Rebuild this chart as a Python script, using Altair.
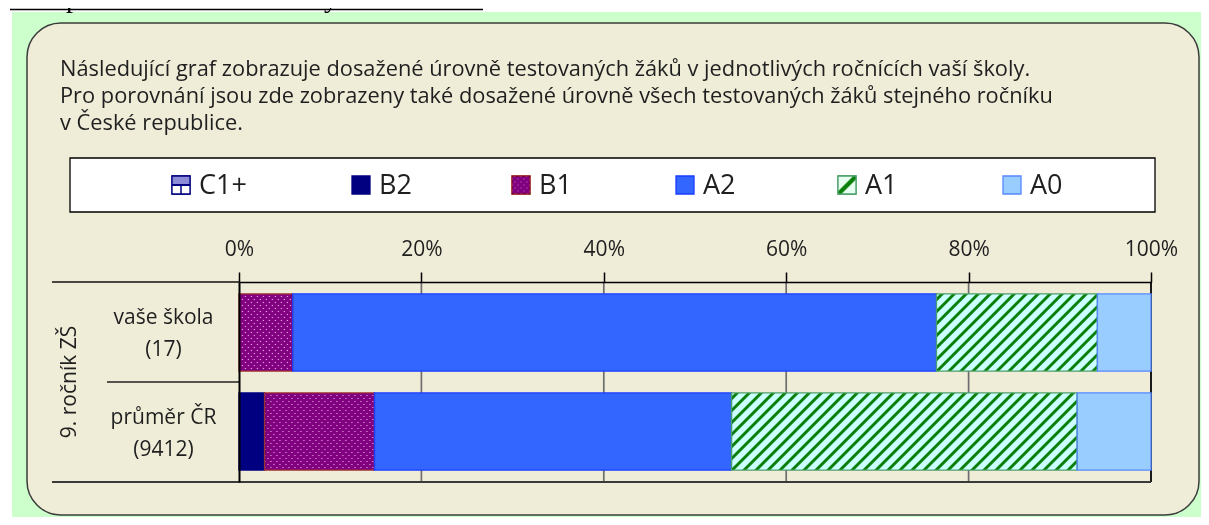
import math
import altair as alt
import pandas as pd

# ------------------------------------------------------------------ data
title_text = "Komparace úrovně testovaných žáků"
intro_lines = [
    "Následující graf zobrazuje dosažené úrovně testovaných žáků v jednotlivých ročnících vaší školy.",
    "Pro porovnání jsou zde zobrazeny také dosažené úrovně všech testovaných žáků stejného ročníku",
    "v České republice.",
]
group_label = "9. ročník ZŠ"
row_names = ["vaše škola", "průměr ČR"]
row_counts = [17, 9412]
levels = ["C1+", "B2", "B1", "A2", "A1", "A0"]
school_pct = [0.0, 0.0, 5.88, 70.59, 17.65, 5.88]
national_pct = [0.0, 2.8, 12.05, 39.15, 37.9, 8.1]
tick_values = [0, 20, 40, 60, 80, 100]

# ------------------------------------------------------------------ styles / layout
FONT = "Open Sans"
TXT = "#1f1f1f"
FILL = {"C1+": "#9999dd", "B2": "#000080", "B1": "#800080",
        "A2": "#3366ff", "A1": "#ccffff", "A0": "#99ccff"}
STROKE = {"C1+": "#000080", "B2": "#000080", "B1": "#a03030",
          "A2": "#1a3cff", "A1": "#4c9f6a", "A0": "#5588ff"}
GREEN_BG = "#ccffcc"
BEIGE = "#efecd8"

SVG_W, SVG_H = 1193, 509     # whole page minus the 8px body margins
PX0, PY0 = 239, 282          # page position of the plot origin
W, H = 912, 200
PAD = {"left": PX0 - 8, "top": PY0 - 8,
       "right": SVG_W - (PX0 - 8) - W, "bottom": SVG_H - (PY0 - 8) - H}
PAGE_R, PAGE_B = 8 + SVG_W, 8 + SVG_H
PI, PO = 0.22, 0.12
STEP = H / (len(row_names) - PI + 2 * PO)
BAND = STEP * (1 - PI)
LEGEND_X = [172, 352, 512, 676, 838, 1003]
ICON = 18


def rx(p):
    return p - PX0


def ry(p):
    return p - PY0


def one():
    return pd.DataFrame({"k": [0]})


def stripes(w, h, period, profile, anti=False):
    """Diagonal stripes at 45 deg in pixel space for a w x h box (bbox units)."""
    gx, gy = 1.0 / h, 1.0 / w
    s = (gx + gy) / (gx * gx + gy * gy)
    if not anti:
        x1, y1, x2, y2 = 0, 0, s * gx, s * gy
    else:
        x1, y1, x2, y2 = 0, 1, s * gx, 1 - s * gy
    n = (w + h) / period
    stops = []
    k = 0
    while k <= n + 1:
        for f, c in profile:
            o = (k + f) / n
            if o <= 1:
                stops.append({"offset": round(o, 5), "color": c})
        k += 1
    return {"gradient": "linear", "x1": x1, "y1": y1, "x2": x2, "y2": y2,
            "stops": stops}


A1_PROFILE = [(0, "#ccffff"), (0.25, "#ccffff"), (0.38, "#0a800a"),
              (0.6, "#0a800a"), (0.73, "#ccffff")]
B1_PROFILE = [(0, "#800080"), (0.3, "#800080"), (0.5, "#e6a6e6"),
              (0.7, "#800080")]

# ------------------------------------------------------------------ tables
row_keys = [f"{n}|({c})" for n, c in zip(row_names, row_counts)]
row_vals = dict(zip(row_keys, [school_pct, national_pct]))
recs = []
for key in row_keys:
    for i, (lv, v) in enumerate(zip(levels, row_vals[key])):
        recs.append({"row": key, "level": lv, "value": v, "order": i})
bars = pd.DataFrame(recs)

xscale = alt.Scale(domain=[0, 100], nice=False, zero=False)
yscale = alt.Scale(domain=row_keys, paddingInner=PI, paddingOuter=PO)
xaxis = alt.Axis(orient="top", values=tick_values, labelExpr="datum.value + '%'",
                 grid=False, domainColor="#000000", domainWidth=1.5,
                 tickColor="#000000", tickWidth=1.5, tickSize=10,
                 labelFont=FONT, labelFontSize=21, labelColor=TXT,
                 labelPadding=13, labelFlush=False, labelOverlap=False,
                 labelBound=False, title=None, zindex=1)
yaxis = alt.Axis(orient="left", title=None, ticks=False, tickSize=0,
                 domainColor="#000000", domainWidth=2,
                 labelAlign="center", labelBaseline="middle",
                 labelPadding=PX0 - 163, labelOffset=-14, labelFont=FONT,
                 labelFontSize=21, labelLineHeight=32, labelColor=TXT,
                 labelLimit=300, labelExpr="split(datum.label, '|')", zindex=1)

X = alt.X("x0:Q", scale=xscale, axis=xaxis)
X2 = alt.X2("x1:Q")
Y = alt.Y("row:N", sort=row_keys, scale=yscale, axis=yaxis)

base = (alt.Chart(bars)
        .transform_filter("datum.value > 0")
        .transform_stack(stack="value", groupby=["row"], as_=["x0", "x1"],
                         sort=[alt.SortField("order")]))

# ------------------------------------------------------------------ decorations
green = alt.Chart(one()).mark_rect(fill=GREEN_BG).encode(
    x=alt.value(rx(12)), x2=alt.value(rx(PAGE_R)),
    y=alt.value(ry(12)), y2=alt.value(ry(PAGE_B)))
box = alt.Chart(one()).mark_rect(fill=BEIGE, stroke="#3c3c3c", strokeWidth=1.5,
                                 cornerRadius=34).encode(
    x=alt.value(rx(27)), x2=alt.value(rx(PAGE_R - 2)),
    y=alt.value(ry(23)), y2=alt.value(ry(PAGE_B - 2)))
title = alt.Chart(one()).mark_text(align="left", baseline="alphabetic",
                                   font="Liberation Serif", fontSize=28,
                                   color="#000000").encode(
    x=alt.value(rx(10)), y=alt.value(ry(7)), text=alt.value(title_text))
title_line = alt.Chart(one()).mark_rule(color="#000000", strokeWidth=1.5).encode(
    x=alt.value(rx(10)), x2=alt.value(rx(483)), y=alt.value(ry(9.5)))
intro = alt.Chart(one()).mark_text(align="left", baseline="alphabetic",
                                   font=FONT, fontSize=21.8, lineHeight=27,
                                   color=TXT).encode(
    x=alt.value(rx(60)), y=alt.value(ry(76)), text=alt.value(intro_lines))
legend_box = alt.Chart(one()).mark_rect(fill="#ffffff", stroke="#000000",
                                        strokeWidth=1.3).encode(
    x=alt.value(rx(70)), x2=alt.value(rx(1155)),
    y=alt.value(ry(158)), y2=alt.value(ry(212)))

leg = pd.DataFrame({
    "level": levels,
    "ix": [rx(v) for v in LEGEND_X],
    "ix2": [rx(v + ICON) for v in LEGEND_X],
    "tx": [rx(v + ICON + 9) for v in LEGEND_X],
    "fill": [FILL[l] for l in levels],
    "stroke": [STROKE[l] for l in levels],
})
iy, iy2 = ry(176), ry(176 + ICON)
leg_icons = alt.Chart(leg).mark_rect(strokeWidth=1.3).encode(
    x=alt.X("ix:Q", scale=None), x2=alt.X2("ix2:Q"),
    y=alt.value(iy), y2=alt.value(iy2),
    fill=alt.Fill("fill:N", scale=None), stroke=alt.Stroke("stroke:N", scale=None))


def icon_layer(level, **mark):
    i = levels.index(level)
    return alt.Chart(one()).mark_rect(**mark).encode(
        x=alt.value(rx(LEGEND_X[i])), x2=alt.value(rx(LEGEND_X[i] + ICON)),
        y=alt.value(iy), y2=alt.value(iy2))


c1_grad = {"gradient": "linear", "x1": 0, "y1": 0, "x2": 0, "y2": 1, "stops": [
    {"offset": 0, "color": "#8c8cd6"}, {"offset": 0.42, "color": "#8c8cd6"},
    {"offset": 0.42, "color": "#000080"}, {"offset": 0.56, "color": "#000080"},
    {"offset": 0.56, "color": "#ffffff"}, {"offset": 1, "color": "#ffffff"}]}
a1_icon_grad = {"gradient": "linear", "x1": 0, "y1": 0, "x2": 1, "y2": 1, "stops": [
    {"offset": 0, "color": "#e6fff0"}, {"offset": 0.4, "color": "#e6fff0"},
    {"offset": 0.45, "color": "#0a800a"}, {"offset": 0.57, "color": "#0a800a"},
    {"offset": 0.62, "color": "#e6fff0"}, {"offset": 1, "color": "#e6fff0"}]}
i_c1 = levels.index("C1+")
icon_layers = [
    icon_layer("C1+", fill=c1_grad, stroke=STROKE["C1+"], strokeWidth=1.3),
    alt.Chart(one()).mark_rule(color="#000080", strokeWidth=1.5).encode(
        x=alt.value(rx(LEGEND_X[i_c1] + ICON / 2)),
        y=alt.value(iy + ICON * 0.5), y2=alt.value(iy2)),
    icon_layer("B1", fill=stripes(ICON, ICON, 6, B1_PROFILE)),
    icon_layer("B1", fill=stripes(ICON, ICON, 6, B1_PROFILE, anti=True),
               blend="darken", stroke=STROKE["B1"], strokeWidth=1.3),
    icon_layer("A1", fill=a1_icon_grad, stroke=STROKE["A1"], strokeWidth=1.3),
]
leg_text = alt.Chart(leg).mark_text(align="left", baseline="middle", font=FONT,
                                    fontSize=27, color=TXT).encode(
    x=alt.X("tx:Q", scale=None), y=alt.value(ry(186)), text="level:N")

group_text = alt.Chart(one()).mark_text(angle=270, align="center",
                                        baseline="middle", font=FONT,
                                        fontSize=21, color=TXT).encode(
    x=alt.value(rx(70)), y=alt.value(ry(382)), text=alt.value(group_label))

# ------------------------------------------------------------------ grid + bars
grid_df = pd.DataFrame({"t": tick_values})
grid_inner = (alt.Chart(grid_df).transform_filter("datum.t > 0 && datum.t < 100")
              .mark_rule(color="#6e6e6e", strokeWidth=1.7)
              .encode(x=alt.X("t:Q", scale=xscale, axis=xaxis),
                      y=alt.value(0), y2=alt.value(H)))
grid_edge = (alt.Chart(grid_df).transform_filter("datum.t == 100")
             .mark_rule(color="#1a1a1a", strokeWidth=2)
             .encode(x=alt.X("t:Q", scale=xscale, axis=xaxis),
                     y=alt.value(0), y2=alt.value(H)))

bars_main = base.mark_bar(strokeWidth=0).encode(
    x=X, x2=X2, y=Y,
    fill=alt.Fill("level:N", scale=alt.Scale(domain=levels,
                                             range=[FILL[l] for l in levels]),
                  legend=None))

overlays = []
for key in row_keys:
    vals = row_vals[key]
    for lv in ["B1", "A1"]:
        v = vals[levels.index(lv)]
        if v <= 0:
            continue
        w = v * W / 100.0
        sel = base.transform_filter(
            f"datum.row == '{key}' && datum.level == '{lv}'")
        if lv == "A1":
            overlays.append(sel.mark_bar(fill=stripes(w, BAND, 12, A1_PROFILE))
                            .encode(x=X, x2=X2, y=Y))
        else:
            overlays.append(sel.mark_bar(fill=stripes(w, BAND, 6, B1_PROFILE))
                            .encode(x=X, x2=X2, y=Y))
            overlays.append(sel.mark_bar(fill=stripes(w, BAND, 6, B1_PROFILE, anti=True),
                                         blend="darken")
                            .encode(x=X, x2=X2, y=Y))

outline = base.mark_bar(fillOpacity=0, strokeWidth=1.3).encode(
    x=X, x2=X2, y=Y,
    stroke=alt.Stroke("level:N", scale=alt.Scale(domain=levels,
                                                 range=[STROKE[l] for l in levels]),
                      legend=None))

rule_top = alt.Chart(one()).mark_rule(color="#111111", strokeWidth=1.5).encode(
    x=alt.value(rx(52)), x2=alt.value(0), y=alt.value(0))
rule_mid = alt.Chart(one()).mark_rule(color="#222222", strokeWidth=1.5).encode(
    x=alt.value(rx(107)), x2=alt.value(0), y=alt.value(H / 2))
rule_bot = alt.Chart(one()).mark_rule(color="#3a3a3a", strokeWidth=2).encode(
    x=alt.value(rx(52)), x2=alt.value(W), y=alt.value(H))

chart = alt.layer(
    green, box, title, title_line, intro, legend_box, leg_icons, *icon_layers,
    leg_text, group_text, grid_inner, grid_edge, bars_main, *overlays, outline,
    rule_top, rule_mid, rule_bot,
).properties(
    width=W, height=H,
    autosize=alt.AutoSizeParams(type="none"),
    padding=PAD,
).configure_view(strokeWidth=0)

chart.save("out.html", embed_options={"renderer": "svg", "actions": False})
